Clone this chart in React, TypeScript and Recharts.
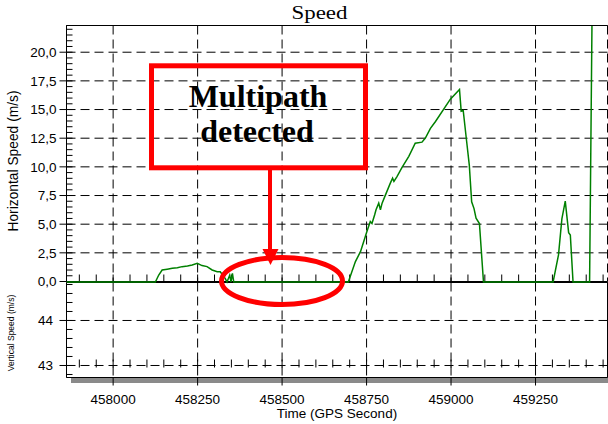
// Speed plot: horizontal speed (top panel) + vertical speed (bottom panel)
import { LineChart, Line, XAxis, YAxis, CartesianGrid } from 'recharts';

// GPS second of each sample / horizontal speed (m/s)
const hTime = [
  457862, 458125, 458135, 458145, 458160, 458175, 458190, 458204, 458220, 458234,
  458249, 458263, 458278, 458293, 458308, 458317, 458332, 458337, 458345, 458349,
  458353, 458357, 458696, 458717, 458732, 458751, 458761, 458766, 458774, 458778,
  458786, 458791, 458796, 458806, 458820, 458827, 458831, 458840, 458855, 458875,
  458894, 458914, 458924, 458939, 458954, 458998, 459025, 459030, 459036, 459046,
  459054, 459061, 459068, 459074, 459084, 459096, 459302, 459318, 459328, 459338,
  459348, 459353, 459361, 459410, 459417,
];
const hSpeed = [
  0, 0, 0.61, 1.05, 1.12, 1.19, 1.25, 1.34, 1.4, 1.49,
  1.63, 1.43, 1.34, 1.05, 0.9, 0.9, 0.3, 0, 0.6, 0,
  0.75, 0, 0, 1.78, 2.65, 4.4, 5.27, 5.1, 5.86, 6.3,
  6.88, 6.3, 6.88, 7.6, 8.6, 9.06, 8.77, 9.2, 10.0, 10.96,
  12.1, 12.2, 12.56, 13.4, 14.0, 15.95, 16.8, 14.9, 14.96, 12.3,
  10.2, 7.0, 6.4, 5.56, 5.1, 0, 0, 2.36, 5.5, 7.05,
  4.3, 4.1, 0, 0, 22.33,
];

const xMajorTicks = [458000, 458250, 458500, 458750, 459000, 459250];
const xMinorTicks = Array.from({ length: 32 }, (_, i) => 457900 + i * 50);
const hMajorTicks = [0, 2.5, 5, 7.5, 10, 12.5, 15, 17.5, 20];
const hMinorTicks = Array.from({ length: 44 }, (_, i) => 0.5 + i * 0.5);
const vMajorTicks = [43, 44];
const vMinorTicks = [42.8, 43, 43.2, 43.4, 43.6, 43.8, 44, 44.2, 44.4, 44.6, 44.8];

const X_DOMAIN: [number, number] = [457862, 459463];
const H_DOMAIN: [number, number] = [0, 22.33];
// same scale as the frame, plot extended below zero so the zero-level trace is never clipped
const H_LINE_DOMAIN: [number, number] = [-0.9159, 22.33];
const V_DOMAIN: [number, number] = [42.733, 44.844];

const hData = hTime.map((t, i) => ({ t, v: hSpeed[i] }));

const SANS = '"Liberation Sans", Arial, sans-serif';
const SERIF = '"Liberation Serif", "Times New Roman", serif';
const tickFont = { fill: '#000', fontSize: 13.5, fontFamily: SANS };
const black = { stroke: '#000' };

const TOP_MARGIN = { top: 25.5, right: 0.5, bottom: 142.5, left: 0.5 };
const BOTTOM_MARGIN = { top: 282.5, right: 0.5, bottom: 0, left: 0.5 };

const EmptyTick = () => <g />;
const layer = { position: 'absolute' as const, left: 0, top: 0 };

export default function App() {
  return (
    <div style={{ position: 'fixed', left: 0, top: 0, width: 608, height: 424, background: '#fff' }}>
      {/* grey shadow bar under the time axis */}
      <div style={{ position: 'absolute', left: 71, top: 378, width: 537, height: 5, background: '#8a8a8a' }} />

      {/* top panel frame: grid, axes, ticks */}
      <div style={layer}>
        <LineChart width={608} height={424} data={hData} margin={TOP_MARGIN}>
          <CartesianGrid xAxisId="grid" stroke="#000" strokeDasharray="9 5" />
          <XAxis dataKey="t" type="number" domain={X_DOMAIN} allowDataOverflow ticks={xMinorTicks}
            interval={0} mirror height={10} tick={EmptyTick} tickSize={7} tickLine={black} axisLine={black} />
          <XAxis xAxisId="grid" dataKey="t" type="number" domain={X_DOMAIN} allowDataOverflow
            ticks={xMajorTicks} interval={0} mirror height={10} tick={EmptyTick} tickLine={false} axisLine={false} />
          <XAxis xAxisId="top" orientation="top" dataKey="t" type="number" domain={X_DOMAIN} allowDataOverflow
            ticks={xMajorTicks} interval={0} mirror height={10} tick={EmptyTick} tickLine={false} axisLine={black} />
          <YAxis type="number" domain={H_DOMAIN} allowDataOverflow ticks={hMajorTicks} interval={0} width={66}
            tickSize={7} tickMargin={3} tick={tickFont} tickLine={black} axisLine={black}
            tickFormatter={(v: number) => v.toFixed(1).replace('.', ',')} />
          <YAxis yAxisId="minor" type="number" domain={H_DOMAIN} allowDataOverflow ticks={hMinorTicks}
            interval={0} mirror width={10} tick={EmptyTick} tickSize={6} tickLine={black} axisLine={false} />
        </LineChart>
      </div>

      {/* bottom panel: vertical speed */}
      <div style={layer}>
        <LineChart width={608} height={424} data={hData} margin={BOTTOM_MARGIN}>
          <CartesianGrid xAxisId="grid" stroke="#000" strokeDasharray="9 5" />
          <XAxis dataKey="t" type="number" domain={X_DOMAIN} allowDataOverflow ticks={xMajorTicks} interval={0}
            height={46.5} tickSize={8} tickMargin={8.5} tick={tickFont} tickLine={black} axisLine={black}
            label={{ value: 'Time (GPS Second)', position: 'insideBottom', offset: 6, fill: '#000', fontSize: 13.5, fontFamily: SANS }} />
          <XAxis xAxisId="grid" dataKey="t" type="number" domain={X_DOMAIN} allowDataOverflow
            ticks={xMajorTicks} interval={0} mirror height={10} tick={EmptyTick} tickLine={false} axisLine={false} />
          <XAxis xAxisId="minor" dataKey="t" type="number" domain={X_DOMAIN} allowDataOverflow
            ticks={xMinorTicks} interval={0} mirror height={10} tick={EmptyTick} tickSize={8}
            tickLine={black} axisLine={false} />
          <XAxis xAxisId="top" orientation="top" dataKey="t" type="number" domain={X_DOMAIN} allowDataOverflow
            ticks={xMajorTicks} interval={0} mirror height={10} tick={EmptyTick} tickLine={false} axisLine={black} />
          <YAxis type="number" domain={V_DOMAIN} allowDataOverflow ticks={vMajorTicks} interval={0} width={66}
            tickSize={7} tickMargin={6.5} tick={tickFont} tickLine={black} axisLine={black} />
          <YAxis yAxisId="minor" type="number" domain={V_DOMAIN} allowDataOverflow ticks={vMinorTicks}
            interval={0} mirror width={10} tick={EmptyTick} tickSize={6} tickLine={black} axisLine={false} />
          <YAxis yAxisId="right" orientation="right" type="number" domain={V_DOMAIN} allowDataOverflow
            ticks={vMajorTicks} interval={0} mirror width={10} tick={EmptyTick} tickLine={false} axisLine={black} />
        </LineChart>
      </div>

      {/* top panel data: horizontal speed line, drawn above the frame */}
      <div style={layer}>
        <LineChart width={608} height={424} data={hData}
          margin={{ top: 26, right: 0.5, bottom: 131.5, left: 66.5 }}>
          <XAxis dataKey="t" type="number" domain={X_DOMAIN} allowDataOverflow hide />
          <YAxis type="number" domain={H_LINE_DOMAIN} allowDataOverflow hide />
          <Line type="linear" dataKey="v" stroke="#008000" strokeWidth={1.5} dot={false} isAnimationActive={false} />
        </LineChart>
      </div>

      {/* titles and the multipath annotation */}
      <svg width={608} height={424} style={{ ...layer, pointerEvents: 'none' }}>
        <text x={319.5} y={18.5} textAnchor="middle" fontFamily={SERIF} fontSize={18} textLength={56}
          lengthAdjust="spacingAndGlyphs" fill="#000">Speed</text>
        <text x={18} y={161} transform="rotate(-90 18 161)" textAnchor="middle" fontFamily={SANS}
          fontSize={13.8} fill="#000">Horizontal Speed (m/s)</text>
        <text x={14} y={333} transform="rotate(-90 14 333)" textAnchor="middle" fontFamily={SANS}
          fontSize={8.5} fill="#000">Vertical Speed (m/s)</text>

        <rect x={151.5} y={65.8} width={214} height={102} fill="none" stroke="#ff0000" strokeWidth={5} />
        <text x={258} y={106.7} textAnchor="middle" fontFamily={SERIF} fontWeight="bold" fontSize={32}
          fill="#000">Multipath</text>
        <text x={257} y={142} textAnchor="middle" fontFamily={SERIF} fontWeight="bold" fontSize={32}
          fill="#000">detected</text>
        <line x1={270} y1={168} x2={270} y2={250} stroke="#ff0000" strokeWidth={4} />
        <polygon points="262.5,249 278.5,249 270.5,265" fill="#ff0000" />
        <ellipse cx={282} cy={281} rx={60.5} ry={23.5} fill="none" stroke="#ff0000" strokeWidth={5} />
      </svg>
    </div>
  );
}
